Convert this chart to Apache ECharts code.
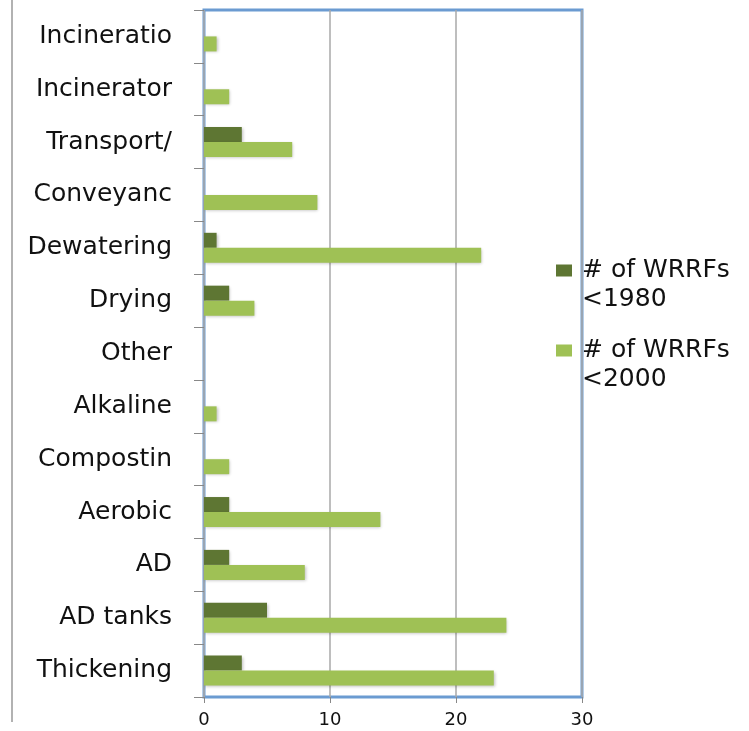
<!DOCTYPE html>
<html>
<head>
<meta charset="utf-8">
<script src="https://cdn.jsdelivr.net/npm/echarts@6/dist/echarts.min.js"></script>
<style>
	html,body{margin:0;padding:0;background:#fff;}
	#main{width:749px;height:731px;}
</style>
</head>
<body>
<div id="main"></div>
<script>
	// categories from bottom to top
	var categories = ['Thickening','AD tanks','AD','Aerobic','Compostin','Alkaline','Other','Drying','Dewatering','Conveyanc','Transport/','Incinerator','Incineratio'];
	var seriesNames = ['# of WRRFs\n<1980','# of WRRFs\n<2000'];
	var wrrf1980 = [3,5,2,2,0,0,0,2,1,0,3,0,0];
	var wrrf2000 = [23,24,8,14,2,1,0,4,22,9,7,2,1];
	var xTicks = [0,10,20,30];

	var chart = echarts.init(document.getElementById('main'));
	var fontName = 'DejaVu Sans';
	var option = {
		animation:false,
		color:['#5e7633','#9fc155'],
		grid:{
			left:204,
			right:167,
			top:10,
			bottom:34,
			show:true,
			borderColor:'#6b9bd1',
			borderWidth:3
		},
		legend:{
			orient:'vertical',
			left:556,
			top:227,
			padding:0,
			itemWidth:16,
			itemHeight:12,
			itemGap:-7,
			icon:'rect',
			data:seriesNames,
			// blank first line so the icon sits on the first text line
			formatter:function(name){ return ' \n'+name; },
			textStyle:{
				fontFamily:fontName,
				fontSize:25,
				color:'#111',
				lineHeight:29,
				padding:[0,0,0,5]
			}
		},
		xAxis:{
			type:'value',
			min:xTicks[0],
			max:xTicks[xTicks.length-1],
			interval:10,
			axisLine:{show:false},
			axisTick:{show:true,length:6,lineStyle:{color:'#888'}},
			axisLabel:{fontFamily:fontName,fontSize:18,color:'#111',margin:14},
			splitLine:{show:true,lineStyle:{color:'#a8a8a8',width:1.5}}
		},
		yAxis:{
			type:'category',
			data:categories,
			axisLine:{show:false},
			axisTick:{show:true,length:10,lineStyle:{color:'#888'}},
			axisLabel:{fontFamily:fontName,fontSize:25,color:'#111',margin:32}
		},
		series:[
			{
				name:seriesNames[0],
				type:'bar',
				data:wrrf1980,
				barWidth:15,
				barGap:'0%',
				itemStyle:{shadowColor:'rgba(0,0,0,0.25)',shadowBlur:3,shadowOffsetX:1,shadowOffsetY:1}
			},
			{
				name:seriesNames[1],
				type:'bar',
				data:wrrf2000,
				barWidth:15,
				barGap:'0%',
				itemStyle:{shadowColor:'rgba(0,0,0,0.25)',shadowBlur:3,shadowOffsetX:1,shadowOffsetY:1}
			}
		],
		graphic:[
			{
				type:'line',
				shape:{x1:12,y1:0,x2:12,y2:722},
				style:{stroke:'#999',lineWidth:1.5}
			}
		]
	};
	chart.setOption(option);
</script>
</body>
</html>
